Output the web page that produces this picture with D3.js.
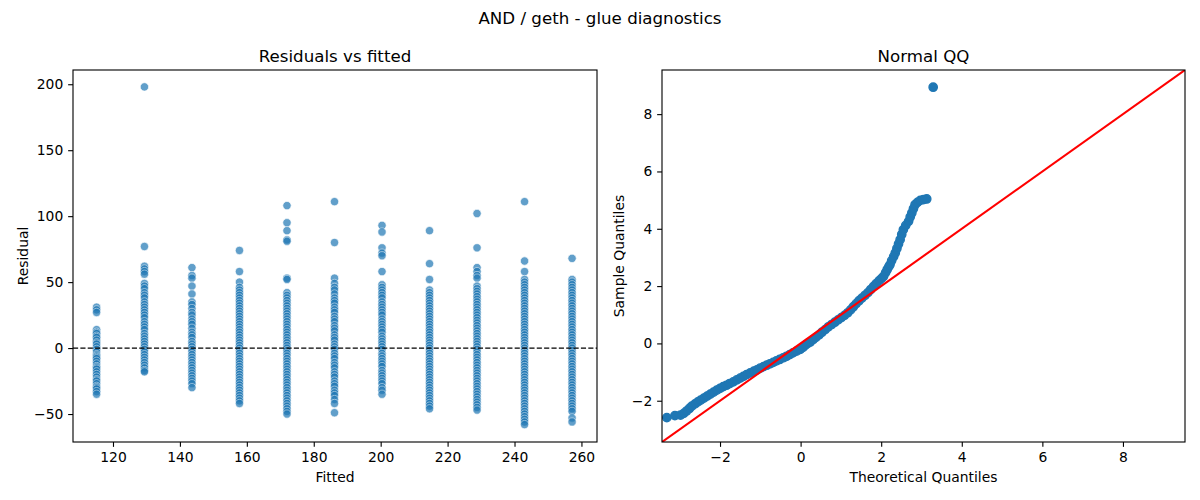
<!DOCTYPE html>
<html>
<head>
<meta charset="utf-8">
<script src="https://cdn.jsdelivr.net/npm/d3@7"></script>
<style>
  body { margin: 0; background: #fff; }
  svg text { font-family: "DejaVu Sans", sans-serif; fill: #000; }
</style>
</head>
<body>
<div class="diagnostics"></div>
<script>
// fitted levels of the model (one column of residuals per level)
const fitted = [115.1, 129.4, 143.6, 157.8, 172.0, 186.2, 200.4, 214.6, 228.8, 243.0, 257.2];

// residuals, one row per fitted level
const residuals = [
  [31, 29, 27, 14, 12, 11, 9, 8, 6, 4, 3, 1, -1, -3, -5, -6, -7, -8, -10, -12, -14, -15, -16, -18, -20, -22, -24, -25, -27, -29, -30, -31, -33, -35],
  [198, 77, 62, 60, 58, 56, 49, 47, 45, 42, 40, 38, 35, 33, 31, 29, 27, 25, 23, 20, 18, 16, 14, 11, 9, 7, 5, 3, 1, -1, -3, -5, -7, -9, -11, -13, -15, -17, -18],
  [61, 55, 53, 47, 41, 35, 33, 30, 27, 25, 22, 20, 18, 15, 12, 10, 8, 5, 3, 1, -1, -3, -5, -7, -9, -11, -13, -15, -17, -19, -21, -23, -25, -27, -30],
  [74, 58, 50, 46, 44, 42, 40, 38, 36, 34, 32, 30, 28, 26, 24, 22, 20, 18, 16, 14, 12, 10, 8, 6, 4, 2, 0, -2, -4, -6, -8, -10, -12, -14, -16, -18, -20, -22, -24, -26, -28, -30, -32, -34, -36, -38, -40, -42],
  [108, 95, 89, 82, 81, 53, 52, 42, 40, 38, 36, 34, 32, 30, 28, 26, 24, 22, 20, 18, 16, 14, 12, 10, 8, 6, 4, 2, 0, -2, -4, -6, -8, -10, -12, -14, -16, -18, -20, -22, -24, -26, -28, -30, -32, -34, -36, -38, -40, -42, -44, -46, -48, -50],
  [111, 80, 53, 49, 46, 44, 41, 38, 36, 34, 31, 29, 27, 24, 22, 20, 17, 15, 13, 10, 8, 6, 3, 1, -1, -4, -6, -8, -11, -13, -15, -18, -20, -22, -25, -27, -29, -32, -34, -36, -39, -42, -49],
  [93, 88, 76, 72, 70, 58, 48, 46, 44, 42, 40, 38, 35, 33, 31, 29, 27, 25, 22, 20, 18, 16, 14, 12, 9, 7, 5, 3, 1, -1, -4, -6, -8, -10, -12, -14, -17, -19, -21, -23, -25, -27, -30, -32, -35],
  [89, 64, 52, 44, 42, 40, 38, 36, 34, 32, 30, 28, 26, 24, 22, 20, 18, 16, 14, 12, 10, 8, 6, 4, 2, 0, -2, -4, -6, -8, -10, -12, -14, -16, -18, -20, -22, -24, -26, -28, -30, -32, -34, -36, -38, -40, -42, -44, -46],
  [102, 76, 61, 58, 55, 53, 47, 45, 43, 41, 39, 37, 35, 33, 31, 29, 27, 25, 23, 21, 19, 17, 15, 13, 11, 9, 7, 5, 3, 1, -1, -3, -5, -7, -9, -11, -13, -15, -17, -19, -21, -23, -25, -27, -29, -31, -33, -35, -37, -39, -41, -43, -45, -47],
  [111, 66, 58, 52, 50, 48, 46, 44, 42, 40, 38, 36, 34, 32, 30, 28, 26, 24, 22, 20, 18, 16, 14, 12, 10, 8, 6, 4, 2, 0, -2, -4, -6, -8, -10, -12, -14, -16, -18, -20, -22, -24, -26, -28, -30, -32, -34, -36, -38, -40, -42, -44, -46, -48, -50, -52, -54, -56, -58],
  [68, 52, 50, 48, 46, 44, 42, 40, 38, 36, 34, 32, 30, 28, 26, 24, 22, 20, 18, 16, 14, 12, 10, 8, 6, 4, 2, 0, -2, -4, -6, -8, -10, -12, -14, -16, -18, -20, -22, -24, -26, -28, -30, -32, -34, -36, -38, -40, -42, -44, -46, -48, -53, -56]
];

// normal QQ: theoretical quantiles and matching sample quantiles
const qqTheoretical = [-3.32, -3.12, -2.98, -2.90, -2.83, -2.76, -2.70, -2.62, -2.55, -2.48, -2.40, -2.32, -2.24, -2.16, -2.08, -2.00,
  -1.92, -1.84, -1.76, -1.67, -1.58, -1.50, -1.42, -1.34, -1.25, -1.16, -1.08, -1.00, -0.92, -0.84, -0.76, -0.68, -0.60, -0.52,
  -0.43, -0.35, -0.27, -0.19, -0.10, -0.01, 0.06, 0.12, 0.18, 0.24, 0.31, 0.38, 0.46, 0.53, 0.61, 0.69, 0.77, 0.85, 0.93, 1.01,
  1.09, 1.17, 1.24, 1.31, 1.38, 1.45, 1.52, 1.60, 1.67, 1.74, 1.81, 1.88, 1.95, 2.01, 2.06, 2.11, 2.15, 2.19, 2.22, 2.26, 2.31,
  2.35, 2.39, 2.43, 2.47, 2.51, 2.55, 2.61, 2.68, 2.72, 2.76, 2.80, 2.84, 2.90, 2.97, 3.05, 3.13, 3.29];
const qqSample = [-2.59, -2.52, -2.50, -2.44, -2.36, -2.27, -2.19, -2.11, -2.04, -1.98, -1.91, -1.84, -1.77, -1.70, -1.63, -1.57,
  -1.51, -1.46, -1.40, -1.34, -1.27, -1.21, -1.15, -1.09, -1.03, -0.97, -0.92, -0.86, -0.81, -0.76, -0.71, -0.66, -0.61, -0.56,
  -0.50, -0.45, -0.39, -0.33, -0.27, -0.21, -0.14, -0.06, 0.00, 0.05, 0.13, 0.21, 0.30, 0.39, 0.48, 0.58, 0.66, 0.74, 0.82, 0.90,
  0.98, 1.07, 1.17, 1.28, 1.39, 1.49, 1.58, 1.68, 1.77, 1.88, 1.99, 2.09, 2.19, 2.27, 2.34, 2.47, 2.58, 2.68, 2.75, 2.89, 3.03,
  3.16, 3.31, 3.47, 3.62, 3.80, 3.97, 4.12, 4.26, 4.41, 4.55, 4.70, 4.84, 4.92, 4.99, 5.02, 5.04, 8.94];

// tick values
const residTicksX = [120, 140, 160, 180, 200, 220, 240, 260];
const residTicksY = [-50, 0, 50, 100, 150, 200];
const qqTicks = [-2, 0, 2, 4, 6, 8];

const W = 1200, H = 500;
const blue = "#1f77b4";
const px = pt => pt * 100 / 72;   // matplotlib points to pixels at dpi 100

const svg = d3.select(".diagnostics")
  .append("svg")
  .attr("width", W)
  .attr("height", H);

svg.append("rect").attr("width", W).attr("height", H).attr("fill", "#fff");

svg.append("text")
  .text("AND / geth - glue diagnostics")
  .attr("x", W / 2)
  .attr("y", 24)
  .attr("text-anchor", "middle")
  .attr("font-size", px(12) + "px");

// draws spines, ticks, labels and title for one panel
function drawFrame(box, x, y, xticks, yticks, title, xlabel, ylabel, ylabelX){
  const g = svg.append("g");

  const fmt = d3.format("d");
  const xAxis = g.append("g")
    .attr("transform", `translate(0, ${box.bottom})`)
    .call(d3.axisBottom(x).tickValues(xticks).tickFormat(fmt).tickSize(px(3.5)).tickPadding(px(3.5)));
  const yAxis = g.append("g")
    .attr("transform", `translate(${box.left}, 0)`)
    .call(d3.axisLeft(y).tickValues(yticks).tickFormat(fmt).tickSize(px(3.5)).tickPadding(px(3.5)));

  for(let a of [xAxis, yAxis]){
    a.select(".domain").remove();
    a.selectAll("line").attr("stroke", "#000").attr("stroke-width", px(0.8));
    a.selectAll("text").attr("font-size", px(10) + "px").attr("font-family", "DejaVu Sans").attr("fill", "#000");
  }

  g.append("rect")
    .attr("x", box.left)
    .attr("y", box.top)
    .attr("width", box.right - box.left)
    .attr("height", box.bottom - box.top)
    .attr("fill", "none")
    .attr("stroke", "#000")
    .attr("stroke-width", px(0.8));

  g.append("text")
    .text(title)
    .attr("x", (box.left + box.right) / 2)
    .attr("y", box.top - px(6))
    .attr("text-anchor", "middle")
    .attr("font-size", px(12) + "px");

  g.append("text")
    .text(xlabel)
    .attr("x", (box.left + box.right) / 2)
    .attr("y", 482)
    .attr("text-anchor", "middle")
    .attr("font-size", px(10) + "px");

  g.append("text")
    .text(ylabel)
    .attr("transform", `translate(${ylabelX}, ${(box.top + box.bottom) / 2}) rotate(-90)`)
    .attr("text-anchor", "middle")
    .attr("font-size", px(10) + "px");
}

// clip path so marks stay inside a panel
function addClip(id, box){
  svg.append("clipPath").attr("id", id)
    .append("rect")
    .attr("x", box.left).attr("y", box.top)
    .attr("width", box.right - box.left).attr("height", box.bottom - box.top);
}

// ---- residuals vs fitted ----
const leftBox = {left: 73, right: 597, top: 70, bottom: 442};
const xFit = d3.scaleLinear().domain([108.05, 264.65]).range([leftBox.left, leftBox.right]);
const yRes = d3.scaleLinear().domain([-71.2, 210.8]).range([leftBox.bottom, leftBox.top]);

const points = fitted.flatMap((f, i) => residuals[i].map(r => ({fitted: f, resid: r})));

addClip("clipLeft", leftBox);
svg.append("g")
  .attr("clip-path", "url(#clipLeft)")
  .selectAll("circle")
  .data(points)
  .join("circle")
  .attr("cx", d => xFit(d.fitted))
  .attr("cy", d => yRes(d.resid))
  .attr("r", px(3))
  .attr("fill", blue)
  .attr("stroke", "#fff")
  .attr("stroke-width", px(0.48))
  .attr("opacity", 0.7);

svg.append("line")
  .attr("x1", leftBox.left)
  .attr("x2", leftBox.right)
  .attr("y1", yRes(0))
  .attr("y2", yRes(0))
  .attr("stroke", "#000")
  .attr("stroke-width", px(1))
  .attr("stroke-dasharray", `${px(3.7)},${px(1.6)}`);

drawFrame(leftBox, xFit, yRes, residTicksX, residTicksY, "Residuals vs fitted", "Fitted", "Residual", 28);

// ---- normal QQ ----
const rightBox = {left: 662, right: 1185, top: 70, bottom: 442};
const qqLimits = [-3.44, 9.54];
const xQ = d3.scaleLinear().domain(qqLimits).range([rightBox.left, rightBox.right]);
const yQ = d3.scaleLinear().domain(qqLimits).range([rightBox.bottom, rightBox.top]);

const qq = qqTheoretical.map((t, i) => ({t: t, s: qqSample[i]}));

addClip("clipRight", rightBox);
const qqG = svg.append("g").attr("clip-path", "url(#clipRight)");

qqG.selectAll("circle")
  .data(qq)
  .join("circle")
  .attr("cx", d => xQ(d.t))
  .attr("cy", d => yQ(d.s))
  .attr("r", px(3))
  .attr("fill", blue)
  .attr("stroke", blue)
  .attr("stroke-width", px(1));

// 45 degree reference line
qqG.append("line")
  .attr("x1", xQ(qqLimits[0]))
  .attr("y1", yQ(qqLimits[0]))
  .attr("x2", xQ(qqLimits[1]))
  .attr("y2", yQ(qqLimits[1]))
  .attr("stroke", "#ff0000")
  .attr("stroke-width", px(1.5));

drawFrame(rightBox, xQ, yQ, qqTicks, qqTicks, "Normal QQ", "Theoretical Quantiles", "Sample Quantiles", 624);
</script>
</body>
</html>
